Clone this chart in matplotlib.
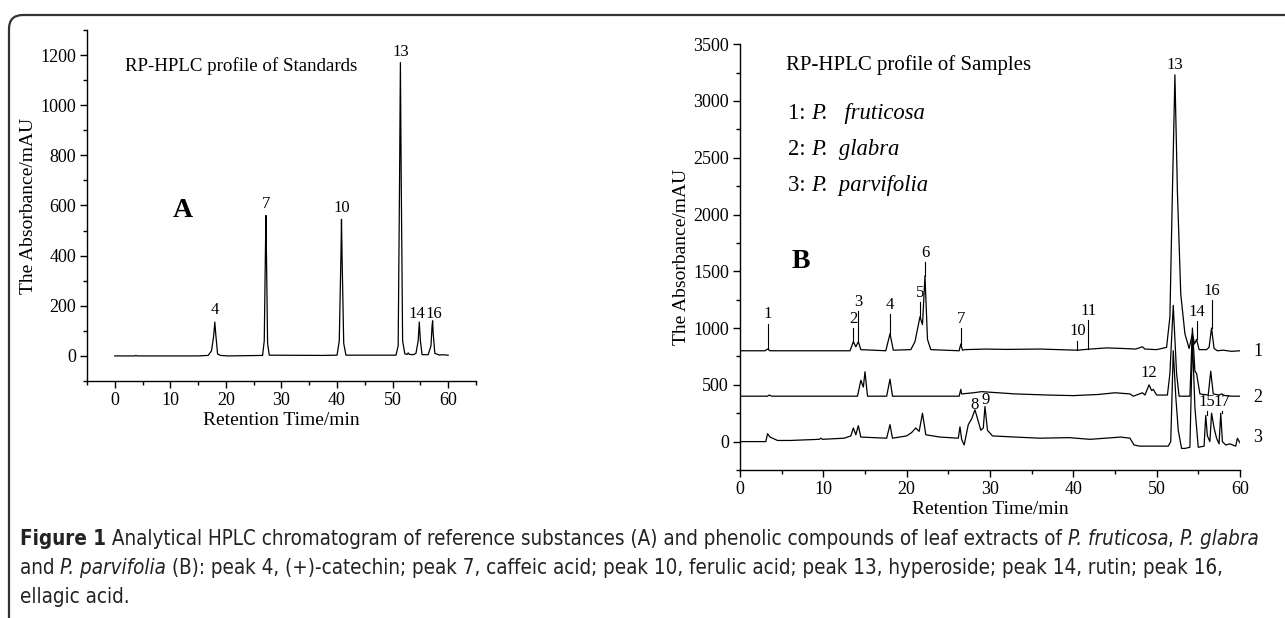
import matplotlib
matplotlib.use('Agg')
import matplotlib.pyplot as plt
from matplotlib.patches import FancyBboxPatch
from matplotlib.transforms import IdentityTransform, offset_copy
from matplotlib.ticker import MultipleLocator

plt.rcParams['font.family'] = ['Liberation Serif', 'DejaVu Serif']

# ---- panel A: standards (time in min, absorbance in mAU) ----
std_t = [0, 3.6, 3.8, 4.0, 15.0, 16.8, 17.4, 17.8, 18.0, 18.2, 18.5, 19.0, 20.4,
         26.6, 26.9, 27.1, 27.2, 27.3, 27.5, 27.8, 37.5, 40.0, 40.4, 40.7, 40.8,
         40.9, 41.2, 41.6, 50.6, 51.0, 51.25, 51.4, 51.55, 51.8, 52.2, 52.6, 52.8,
         53.0, 53.7, 54.2, 54.6, 54.8, 55.0, 55.3, 56.4, 56.9, 57.1, 57.2, 57.3,
         57.6, 58.5, 58.8, 60]
std_y = [0, 0, 2, 0, 0, 2, 20, 80, 135, 80, 8, 2, 0,
         2, 60, 400, 560, 400, 50, 3, 2, 3, 60, 400, 545,
         400, 50, 3, 3, 40, 700, 1170, 700, 60, 8, 6, 12,
         6, 5, 10, 60, 135, 60, 5, 5, 40, 120, 140, 90,
         10, 3, 5, 3]
std_peak_t = [18.0, 27.2, 40.8, 51.4, 54.4, 57.4]
std_peak_y = [150, 575, 560, 1180, 135, 135]
std_peak_lbl = ['4', '7', '10', '13', '14', '16']

# ---- panel B: samples, three stacked traces ----
s1_t = [0, 3.0, 3.3, 3.6, 13.2, 13.6, 13.9, 14.2, 14.5, 17.5, 18.0, 18.4, 20.5,
        21.0, 21.6, 21.9, 22.2, 22.5, 22.9, 26.3, 26.5, 26.7, 27.0, 29.5, 32, 36,
        40.5, 42, 44, 46, 47.5, 48.3, 48.6, 50, 51.2, 51.6, 51.9, 52.2, 52.5, 52.9,
        53.4, 53.9, 54.3, 54.55, 54.8, 55.1, 56.0, 56.3, 56.6, 56.9, 57.3, 58, 59, 60]
s1_y = [800, 800, 815, 800, 800, 880, 835, 880, 810, 800, 950, 805, 810,
        880, 1100, 1030, 1460, 900, 810, 800, 860, 805, 810, 815, 812, 815,
        805, 815, 825, 820, 815, 835, 815, 810, 830, 1100, 2200, 3230, 2200, 1300,
        950, 820, 950, 860, 900, 810, 810, 830, 1000, 820, 800, 805, 795, 800]

s2_t = [0, 3.3, 3.5, 3.8, 14.1, 14.5, 14.8, 15.0, 15.3, 17.6, 18.0, 18.3, 26.3,
        26.5, 26.6, 28, 29, 30, 33, 37, 40, 43, 45, 46.8, 47.2, 48.3, 48.6, 49.1,
        49.4, 49.6, 50.0, 51.3, 51.6, 52.0, 52.4, 52.7, 54.0, 54.3, 54.6, 54.8,
        55.2, 56.2, 56.5, 56.8, 57.5, 57.8, 58.2, 59, 60]
s2_y = [400, 400, 410, 400, 400, 540, 480, 615, 400, 400, 550, 400, 400,
        460, 420, 430, 440, 435, 420, 410, 405, 415, 430, 420, 400, 430, 410, 500,
        450, 460, 410, 410, 600, 1200, 600, 400, 400, 1000, 620, 600,
        420, 410, 620, 420, 410, 420, 405, 400, 400]

s3_t = [0, 3.1, 3.3, 3.6, 4.5, 6, 9.5, 9.7, 9.9, 12.5, 13.3, 13.6, 13.9, 14.2,
        14.5, 17.6, 18.0, 18.3, 20, 20.6, 21.1, 21.5, 21.9, 22.3, 24, 26.2, 26.4,
        26.6, 26.9, 27.4, 27.8, 28.2, 28.9, 29.2, 29.4, 29.7, 30.3, 33, 36, 39.5,
        42, 45.7, 46.8, 47.3, 48, 51.4, 51.7, 52.0, 52.3, 52.6, 53.0, 53.4, 54.0,
        54.3, 54.6, 55.0, 55.7, 55.9, 56.1, 56.4, 56.6, 56.9, 57.2, 57.5, 57.7,
        57.9, 58.3, 58.8, 59.5, 59.7, 60]
s3_y = [0, 0, 70, 40, 10, 10, 20, 30, 20, 30, 50, 120, 60, 140,
        40, 30, 150, 30, 50, 80, 120, 90, 250, 60, 40, 30, 130,
        20, -30, 150, 200, 280, 100, 120, 310, 100, 50, 40, 30, 35,
        20, 40, 30, -30, -40, -40, 0, 800, 400, 100, -60, -60, -50,
        900, 300, -50, -40, 230, 50, 0, 250, 120, 30, -20, 250,
        0, -30, -20, -40, 30, -10]

trace_lbl = ['1', '2', '3']
trace_lbl_y = [790, 390, 40]

# peak markers drawn as thin leader lines (x, line bottom, line top, label)
mark_t = [3.3, 13.6, 14.2, 18.0, 21.6, 22.2, 26.5, 40.5, 41.8, 54.8, 56.6, 56.0, 57.8]
mark_y0 = [815, 880, 880, 950, 1100, 1460, 860, 805, 815, 900, 1000, 230, 250]
mark_y1 = [1040, 1000, 1150, 1120, 1230, 1580, 1000, 890, 1070, 1060, 1250, 270, 270]
mark_lbl = ['1', '2', '3', '4', '5', '6', '7', '10', '11', '14', '16', '15', '17']
free_t = [52.2, 49.1, 28.2, 29.5]
free_y = [3250, 530, 250, 300]
free_lbl = ['13', '12', '8', '9']

species = [('1: ', 'P.   fruticosa'), ('2: ', 'P.  glabra'), ('3: ', 'P.  parvifolia')]
species_y = [2845, 2525, 2205]

caption = [
    [('Figure 1', 'bold', 'normal'),
     (' Analytical HPLC chromatogram of reference substances (A) and phenolic compounds of leaf extracts of ', 'normal', 'normal'),
     ('P. fruticosa', 'normal', 'italic'), (', ', 'normal', 'normal'), ('P. glabra', 'normal', 'italic')],
    [('and ', 'normal', 'normal'), ('P. parvifolia', 'normal', 'italic'),
     (' (B): peak 4, (+)-catechin; peak 7, caffeic acid; peak 10, ferulic acid; peak 13, hyperoside; peak 14, rutin; peak 16,', 'normal', 'normal')],
    [('ellagic acid.', 'normal', 'normal')],
]

fig = plt.figure(figsize=(12.85, 6.18), dpi=100)
renderer = fig.canvas.get_renderer()


def run_width(s, **kw):
    probe = fig.text(0, 0, s + '|', **kw)
    bar = fig.text(0, 0, '|', **kw)
    w = probe.get_window_extent(renderer).width - bar.get_window_extent(renderer).width
    probe.remove()
    bar.remove()
    return w


def put_runs(x, y, runs, base, **common):
    # write pieces of text one after another on the same baseline
    dx = 0
    for s, kw in runs:
        tr = offset_copy(base, fig=fig, x=dx, y=0, units='dots')
        fig.text(x, y, s, transform=tr, va='baseline', **common, **kw)
        dx += run_width(s, **common, **kw)


def style_axes(ax):
    for side in ['top', 'right']:
        ax.spines[side].set_visible(False)
    for side in ['left', 'bottom']:
        ax.spines[side].set_linewidth(1.0)
    ax.tick_params(which='major', direction='out', length=5, width=1, labelsize=13, pad=3)
    ax.tick_params(which='minor', direction='out', length=3, width=1)
    ax.xaxis.set_major_locator(MultipleLocator(10))
    ax.xaxis.set_minor_locator(MultipleLocator(5))
    ax.set_xlabel('Retention Time/min', fontsize=14, labelpad=2)
    ax.set_ylabel('The Absorbance/mAU', fontsize=14, labelpad=2)
    ax.patch.set_alpha(0)


# outer frame with rounded corner
frame = FancyBboxPatch((9, -30), 1320, 618 - 15 + 30,
                       boxstyle='round,pad=0,rounding_size=14',
                       transform=IdentityTransform(), fill=False,
                       edgecolor='#333333', linewidth=1.6)
fig.patches.append(frame)

# ---- A ----
axA = fig.add_axes([0.0677, 0.3835, 0.3027, 0.568])
axA.plot(std_t, std_y, color='black', lw=0.9)
axA.set_xlim(-5, 65)
axA.set_ylim(-100, 1300)
axA.yaxis.set_major_locator(MultipleLocator(200))
axA.yaxis.set_minor_locator(MultipleLocator(100))
style_axes(axA)
for t, y, s in zip(std_peak_t, std_peak_y, std_peak_lbl):
    axA.text(t, y, s, ha='center', va='bottom', fontsize=12)
axA.text(1.8, 1135, 'RP-HPLC profile of Standards', fontsize=13.6, va='baseline')
axA.text(10.5, 555, 'A', fontsize=20, fontweight='bold', va='baseline')

# ---- B ----
axB = fig.add_axes([0.5759, 0.2395, 0.389, 0.689])
for t, y in [(s1_t, s1_y), (s2_t, s2_y), (s3_t, s3_y)]:
    axB.plot(t, y, color='black', lw=0.9)
axB.set_xlim(0, 60)
axB.set_ylim(-250, 3500)
axB.yaxis.set_major_locator(MultipleLocator(500))
axB.yaxis.set_minor_locator(MultipleLocator(250))
style_axes(axB)
for t, y0, y1, s in zip(mark_t, mark_y0, mark_y1, mark_lbl):
    axB.plot([t, t], [y0, y1], color='black', lw=0.8)
    axB.text(t, y1 + 10, s, ha='center', va='bottom', fontsize=12)
for t, y, s in zip(free_t, free_y, free_lbl):
    axB.text(t, y, s, ha='center', va='bottom', fontsize=12)
for s, y in zip(trace_lbl, trace_lbl_y):
    axB.text(61.6, y, s, ha='left', va='center', fontsize=13, clip_on=False)
axB.text(5.5, 3275, 'RP-HPLC profile of Samples', fontsize=15, va='baseline')
for (num, name), y in zip(species, species_y):
    put_runs(5.7, y, [(num, {}), (name, {'style': 'italic'})], axB.transData, fontsize=16.3)
axB.text(6.2, 1530, 'B', fontsize=20, fontweight='bold', va='baseline')

# ---- caption, sized so the first line spans the frame ----
cap_kw = dict(family=['DejaVu Sans'], fontstretch='condensed', color='#222222')
w13 = sum(run_width(s, fontsize=13, fontweight=w, style=st, **cap_kw) for s, w, st in caption[0])
cap_size = 13 * 1243 / w13
for i, line in enumerate(caption):
    runs = [(s, {'fontweight': w, 'style': st}) for s, w, st in line]
    put_runs(0.0156, 0.118 - i * 0.047, runs, fig.transFigure, fontsize=cap_size, **cap_kw)

fig.savefig('out.png', dpi=100)
